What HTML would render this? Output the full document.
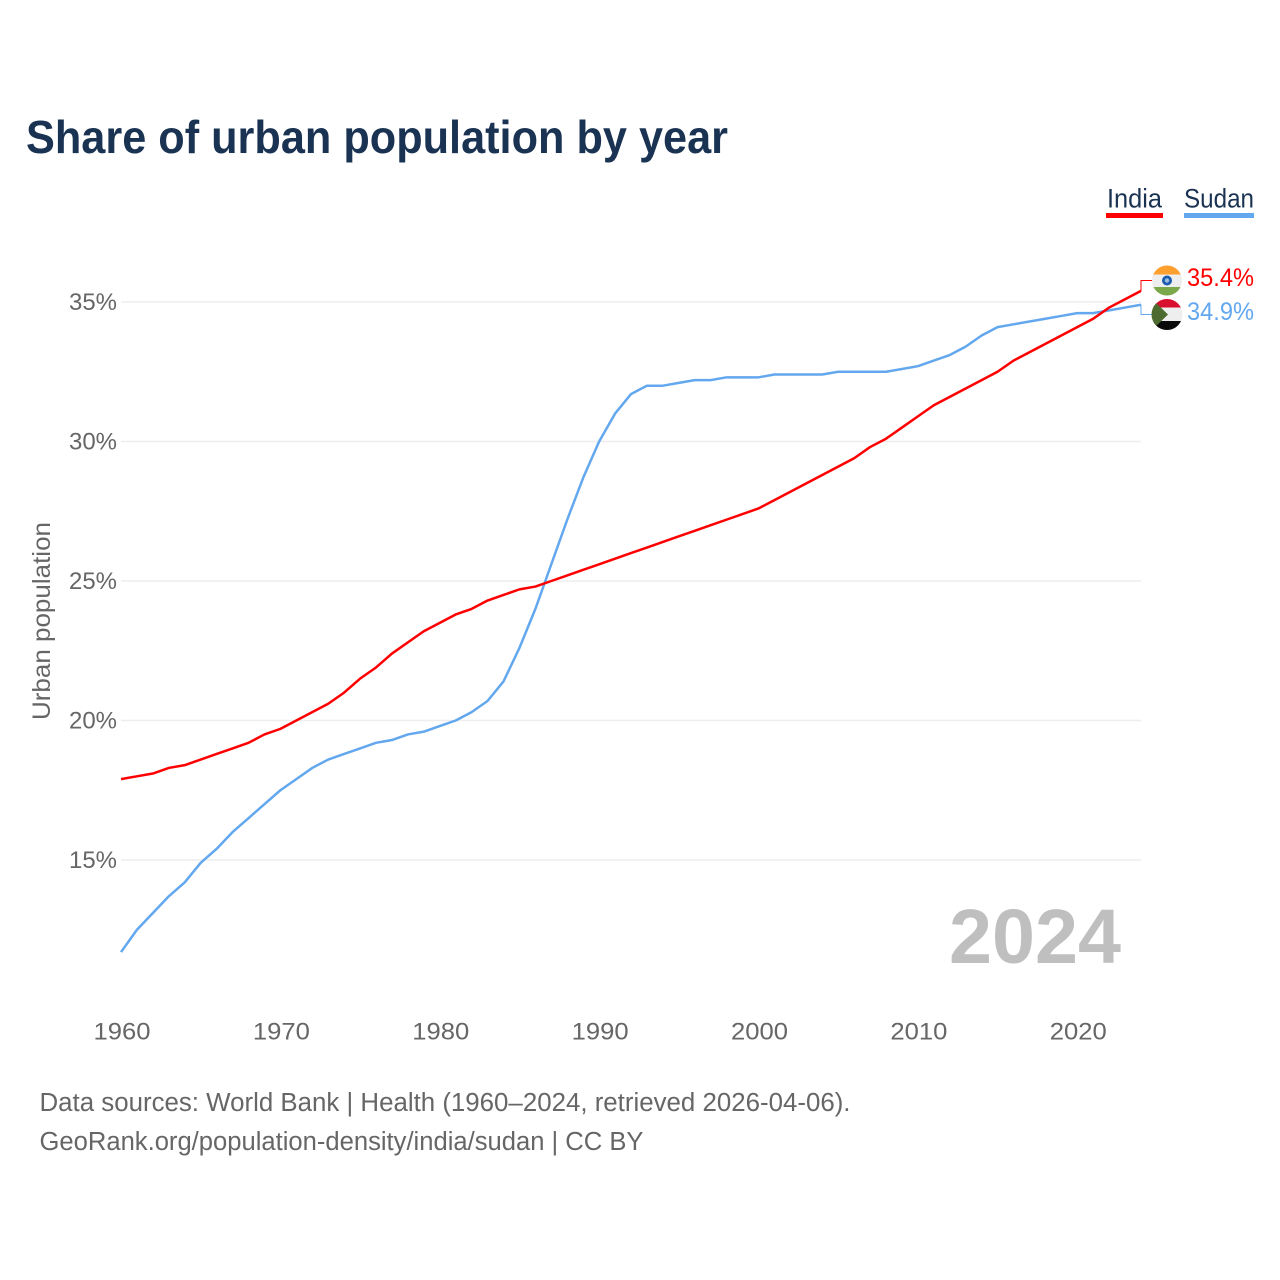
<!DOCTYPE html>
<html lang="en">
<head>
<meta charset="utf-8">
<title>Share of urban population by year</title>
<style>
html,body{margin:0;padding:0;background:#fff;}
svg{display:block;font-family:"Liberation Sans",sans-serif;}
</style>
</head>
<body>
<svg id="chart" xmlns="http://www.w3.org/2000/svg" width="1280" height="1280" viewBox="0 0 1280 1280">
  <rect x="0" y="0" width="1280" height="1280" fill="#ffffff"/>
  <text x="26" y="153" font-size="46" font-weight="700" fill="#1a3353" textLength="702" lengthAdjust="spacingAndGlyphs">Share of urban population by year</text>

  <g>
    <text x="1107" y="207.5" font-size="27" fill="#1a3353" textLength="55" lengthAdjust="spacingAndGlyphs">India</text>
    <rect x="1106" y="213" width="57" height="5" fill="#ff0000"/>
  </g>
  <g>
    <text x="1184" y="207.5" font-size="27" fill="#1a3353" textLength="70" lengthAdjust="spacingAndGlyphs">Sudan</text>
    <rect x="1184" y="213" width="70" height="5" fill="#63a8ef"/>
  </g>

  <g id="grid"></g>
  <g id="yticks"></g>
  <g id="xticks"></g>

  <text transform="translate(50,720) rotate(-90)" font-size="25" fill="#666666" textLength="198" lengthAdjust="spacingAndGlyphs">Urban population</text>
  <text x="949" y="963" font-size="77" font-weight="700" fill="#bfbfbf" textLength="172" lengthAdjust="spacingAndGlyphs">2024</text>

  <g id="series"></g>

  <defs>
    <clipPath id="clip-india"><circle cx="1167" cy="280.5" r="15"/></clipPath>
    <clipPath id="clip-sudan"><circle cx="1167" cy="314.5" r="15.5"/></clipPath>
  </defs>
  <g clip-path="url(#clip-india)">
    <rect x="1150" y="265" width="34" height="10" fill="#ff9f2e"/>
    <rect x="1150" y="274.5" width="34" height="13" fill="#eeeeee"/>
    <rect x="1150" y="287" width="34" height="10" fill="#7aa84a"/>
    <circle cx="1167" cy="280.5" r="5" fill="#1c5cb0"/>
    <circle cx="1167" cy="280.5" r="2.2" fill="#9dbce0"/>
  </g>
  <g clip-path="url(#clip-sudan)">
    <rect x="1150" y="298" width="34" height="10" fill="#d80f2f"/>
    <rect x="1150" y="307.5" width="34" height="14" fill="#eeeeee"/>
    <rect x="1150" y="321" width="34" height="10" fill="#0a0a0a"/>
    <polygon points="1151,298 1168,314.5 1151,331" fill="#4e6b2f"/>
  </g>

  <text x="1187" y="286" font-size="25" fill="#ff0000" textLength="67" lengthAdjust="spacingAndGlyphs">35.4%</text>
  <text x="1187" y="320" font-size="25" fill="#63a8ef" textLength="67" lengthAdjust="spacingAndGlyphs">34.9%</text>

  <text x="39.5" y="1111" font-size="25.5" fill="#666666" textLength="811" lengthAdjust="spacingAndGlyphs">Data sources: World Bank | Health (1960–2024, retrieved 2026-04-06).</text>
  <text x="39.5" y="1150" font-size="25.5" fill="#666666" textLength="604" lengthAdjust="spacingAndGlyphs">GeoRank.org/population-density/india/sudan | CC BY</text>
</svg>
<script>
const startYear = 1960;
const xTickYears = [1960, 1970, 1980, 1990, 2000, 2010, 2020];
const yTickValues = [15, 20, 25, 30, 35];
const indiaValues = [17.9,18.0,18.1,18.3,18.4,18.6,18.8,19.0,19.2,19.5,19.7,20.0,20.3,20.6,21.0,21.5,21.9,22.4,22.8,23.2,23.5,23.8,24.0,24.3,24.5,24.7,24.8,25.0,25.2,25.4,25.6,25.8,26.0,26.2,26.4,26.6,26.8,27.0,27.2,27.4,27.6,27.9,28.2,28.5,28.8,29.1,29.4,29.8,30.1,30.5,30.9,31.3,31.6,31.9,32.2,32.5,32.9,33.2,33.5,33.8,34.1,34.4,34.8,35.1,35.4];
const sudanValues = [11.7,12.5,13.1,13.7,14.2,14.9,15.4,16.0,16.5,17.0,17.5,17.9,18.3,18.6,18.8,19.0,19.2,19.3,19.5,19.6,19.8,20.0,20.3,20.7,21.4,22.6,24.0,25.6,27.2,28.7,30.0,31.0,31.7,32.0,32.0,32.1,32.2,32.2,32.3,32.3,32.3,32.4,32.4,32.4,32.4,32.5,32.5,32.5,32.5,32.6,32.7,32.9,33.1,33.4,33.8,34.1,34.2,34.3,34.4,34.5,34.6,34.6,34.7,34.8,34.9];

const NS = 'http://www.w3.org/2000/svg';
const xScale = function (year) { return 121 + (year - 1960) * (1020 / 64); };
const yScale = function (v) { return 860 - (v - 15) * 27.9; };

function make(tag, attrs, parent, text) {
  const el = document.createElementNS(NS, tag);
  Object.keys(attrs).forEach(function (k) { el.setAttribute(k, attrs[k]); });
  if (text !== undefined) el.textContent = text;
  parent.appendChild(el);
  return el;
}

const gridGroup = document.getElementById('grid');
const yGroup = document.getElementById('yticks');
const xGroup = document.getElementById('xticks');
const seriesGroup = document.getElementById('series');

yTickValues.forEach(function (v) {
  const line = make('line', { x1: 121, x2: 1141, y1: yScale(v), y2: yScale(v), stroke: '#eeeeee', 'stroke-width': 1.5 }, gridGroup);
  
  
  const label = make('text', { x: 117, y: yScale(v) + 8, 'text-anchor': 'end', 'font-size': 24.5, fill: '#666666', textLength: 48, lengthAdjust: 'spacingAndGlyphs' }, yGroup, v + '%');
  
  
});

xTickYears.forEach(function (year) {
  const label = make('text', { x: xScale(year) + 1, y: 1039.5, 'text-anchor': 'middle', 'font-size': 24.5, fill: '#666666', textLength: 57, lengthAdjust: 'spacingAndGlyphs' }, xGroup, String(year));
  
  
});

function linePath(values) {
  return values.map(function (v, i) {
    return (i ? 'L' : 'M') + xScale(startYear + i).toFixed(2) + ' ' + yScale(v).toFixed(2);
  }).join(' ');
}

const sudanLine = make('path', { d: linePath(sudanValues), fill: 'none', stroke: '#63a8ef', 'stroke-width': 2.5, 'stroke-linejoin': 'round' }, seriesGroup);



const indiaLine = make('path', { d: linePath(indiaValues), fill: 'none', stroke: '#ff0000', 'stroke-width': 2.5, 'stroke-linejoin': 'round' }, seriesGroup);



const endX = xScale(startYear + indiaValues.length - 1);
const indiaEndY = yScale(indiaValues[indiaValues.length - 1]);
const sudanEndY = yScale(sudanValues[sudanValues.length - 1]);

const indiaLeader = make('polyline', { points: endX + ',' + indiaEndY + ' ' + endX + ',280.5 1152,280.5', fill: 'none', stroke: '#ff0000', 'stroke-width': 1 }, seriesGroup);



const sudanLeader = make('polyline', { points: endX + ',' + sudanEndY + ' ' + endX + ',314.5 1152,314.5', fill: 'none', stroke: '#63a8ef', 'stroke-width': 1 }, seriesGroup);


</script>
</body>
</html>
